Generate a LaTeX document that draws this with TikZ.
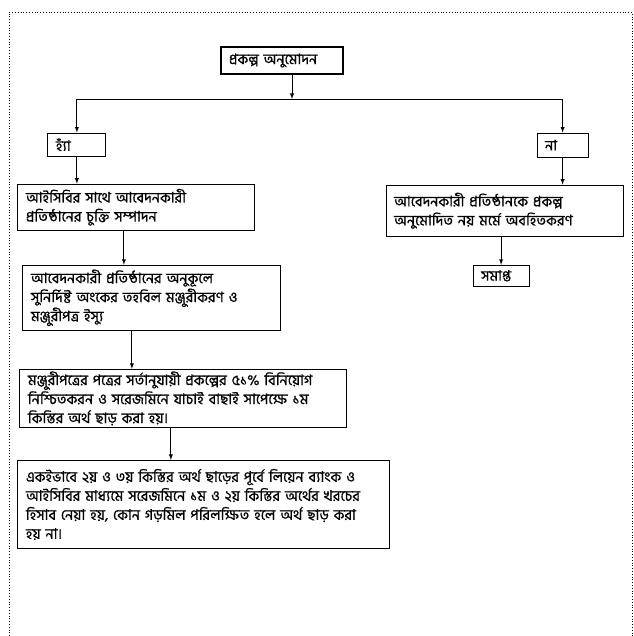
\documentclass[tikz,border=0pt]{standalone}
\usepackage{fontspec}
\setmainfont[Script=Bengali, FakeBold=0.8]{Hind Siliguri}
\usepackage{tikz}
\usetikzlibrary{arrows.meta, positioning}

\begin{document}
\begin{tikzpicture}[
            x=1pt, y=-1pt,
            block/.style={
                rectangle,
                draw=black,
                line width=1.1pt,
                inner xsep=8pt,
                inner ysep=1pt,
                align=left,
                font=\fontsize{14.5}{19}\selectfont
            },
            line/.style={
                draw,
                -latex,
                line width=0.9pt
            }
        ]
            \useasboundingbox (0,0) rectangle (633,636);
            % marco punteado
            \draw [dotted, line width=0.8pt] (9,636) |- (632,12) -- (632,636);

            % --- NODOS ---
            \node [block, text width=106pt, minimum height=27pt] (approve) at (282,60.5) {
                প্রকল্প অনুমোদন
            };

            \node [block, text width=42pt, minimum height=23pt, below left=58pt and 114pt of approve] (yes) {
                হ্যাঁ
            };

            \node [block, text width=35pt, minimum height=24pt, below right=58pt and 193pt of approve] (no) {
                না
            };

            \node [block, text width=221pt, minimum height=46pt, below=27pt of yes, xshift=59.5pt] (contract) {
                আইসিবির সাথে আবেদনকারী \\
                প্রতিষ্ঠানের চুক্তি সম্পাদন
            };

            \node [block, text width=242pt, minimum height=65pt, below=34pt of contract, xshift=15.5pt] (grant) {
                আবেদনকারী প্রতিষ্ঠানের অনুকূলে \\
                সুনির্দিষ্ট অংকের তহবিল মঞ্জুরীকরণ ও \\
                মঞ্জুরীপত্র ইস্যু
            };

            \node [block, text width=311pt, minimum height=58pt, below=38pt of grant, xshift=31.5pt] (release) {
                মঞ্জুরীপত্রের পত্রের সর্তানুযায়ী প্রকল্পের ৫১\% বিনিয়োগ \\
                নিশ্চিতকরন ও সরেজমিনে যাচাই বাছাই সাপেক্ষে ১ম \\
                কিস্তির অর্থ ছাড় করা হয়।
            };

            \node [block, text width=356pt, minimum height=88pt, below=32pt of release, xshift=20.5pt] (audit) {
                একইভাবে ২য় ও ৩য় কিস্তির অর্থ ছাড়ের পূর্বে লিয়েন ব্যাংক ও \\
                আইসিবির মাধ্যমে সরেজমিনে ১ম ও ২য় কিস্তির অর্থের খরচের \\
                হিসাব নেয়া হয়, কোন গড়মিল পরিলক্ষিত হলে অর্থ ছাড় করা \\
                হয় না।
            };

            \node [block, text width=221pt, minimum height=51pt, below=27pt of no, xshift=-58pt] (inform) {
                আবেদনকারী প্রতিষ্ঠানকে প্রকল্প \\
                অনুমোদিত নয় মর্মে অবহিতকরণ
            };

            \node [block, text width=40pt, minimum height=21pt, below=28pt of inform, xshift=-3.5pt] (finish) {
                সমাপ্ত
            };

            % --- ENLACES ---
            \coordinate (split) at (292,99);
            \path [line] (approve.south -| split) -- (split);
            \draw [line width=0.9pt] (yes |- split) -- (no |- split);
            \path [line] (yes |- split) -- (yes);
            \path [line] (no |- split) -- (no);

            \path [line] (yes) -- (yes |- contract.north);
            \path [line] ([xshift=-12.5pt]contract.south) -- ([xshift=-12.5pt]contract.south |- grant.north);
            \path [line] ([xshift=-20pt]grant.south) -- ([xshift=-20pt]grant.south |- release.north);
            \path [line] ([xshift=-12.5pt]release.south) -- ([xshift=-12.5pt]release.south |- audit.north);

            \path [line] (no) -- (no |- inform.north);
            \path [line] (finish |- inform.south) -- (finish);
        \end{tikzpicture}
\end{document}
